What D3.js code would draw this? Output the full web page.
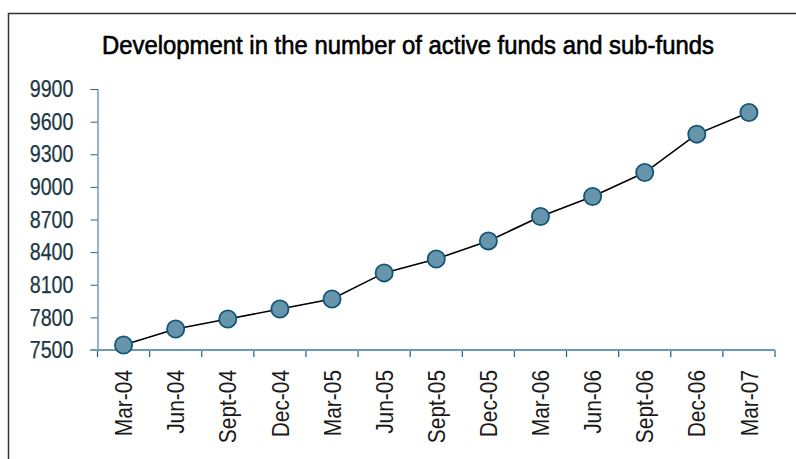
<!DOCTYPE html>
<html>
<head>
<meta charset="utf-8">
<script src="https://cdn.jsdelivr.net/npm/d3@7"></script>
<style>
  body { margin: 0; background: #fff; }
  svg { display: block; }
  text { font-family: "Liberation Sans", Arial, sans-serif; }
</style>
</head>
<body>
<div id="chart"></div>
<script>
/* quarterly number of active funds and sub-funds */
var quarters = ["Mar-04", "Jun-04", "Sept-04", "Dec-04", "Mar-05", "Jun-05", "Sept-05",
                "Dec-05", "Mar-06", "Jun-06", "Sept-06", "Dec-06", "Mar-07"];
var fundCounts = [7546, 7693, 7785, 7877, 7969, 8209, 8337, 8503, 8727, 8911, 9132, 9485, 9684];
var yTicks = [7500, 7800, 8100, 8400, 8700, 9000, 9300, 9600, 9900];
var chartTitle = "Development in the number of active funds and sub-funds";

var data = quarters.map(function(q, i) { return {quarter: q, funds: fundCounts[i]}; });

var width = 796, height = 459;
var plot = {left: 97.5, right: 775, top: 89, bottom: 350};

/* no narrow face installed: squeeze the regular one like Arial Narrow */
function narrow(sel, k) {
	sel.each(function() {
		var len = this.getComputedTextLength();
		d3.select(this)
		  .attr("textLength", len * k)
		  .attr("lengthAdjust", "spacingAndGlyphs");
	});
}

var svg = d3.select("#chart")
            .append("svg")
            .attr("width", width)
            .attr("height", height);

/* frame around the chart, right and bottom edges run off the page */
svg.append("rect")
   .attr("x", 8.5)
   .attr("y", 13.5)
   .attr("width", 800)
   .attr("height", 460)
   .style("fill", "none")
   .style("stroke", "#333")
   .style("stroke-width", 1.5);

svg.append("text")
   .attr("x", 408)
   .attr("y", 54)
   .attr("textLength", 612)
   .attr("lengthAdjust", "spacingAndGlyphs")
   .style("text-anchor", "middle")
   .style("font-size", "25px")
   .style("fill", "#000")
   .style("stroke", "#000")
   .style("stroke-width", 0.6)
   .text(chartTitle);

var x = d3.scaleBand().domain(quarters).range([plot.left, plot.right]).padding(0);
var y = d3.scaleLinear().domain([7500, 9900]).range([plot.bottom, plot.top]);

/* y axis */
var gy = svg.append("g")
            .attr("transform", "translate(" + plot.left + ",0)")
            .call(d3.axisLeft(y).tickValues(yTicks).tickFormat(d3.format("d")).tickSize(7).tickPadding(17));
gy.select(".domain").attr("stroke", "#4f86a3").attr("stroke-width", 1.2);
gy.selectAll(".tick line").attr("stroke", "#2a6688");
gy.selectAll(".tick text")
  .attr("font-family", null)
  .style("font-size", "24px")
  .style("fill", "#1c3844")
  .style("stroke", "#1c3844")
  .style("stroke-width", 0.25)
  .call(narrow, 0.82);

/* x axis: labels at band centres, ticks at band edges */
var gx = svg.append("g")
            .attr("transform", "translate(0," + plot.bottom + ")")
            .call(d3.axisBottom(x).tickSize(0).tickPadding(0));
gx.select(".domain").remove();
gx.selectAll(".tick text")
  .attr("font-family", null)
  .attr("transform", "rotate(-90)")
  .attr("x", -20)
  .attr("y", 0)
  .attr("dy", "0.36em")
  .style("text-anchor", "end")
  .style("font-size", "24px")
  .style("fill", "#1a1a1a")
  .call(narrow, 0.87);

var edges = quarters.map(function(q) { return x(q); }).concat([plot.right]);
gx.selectAll(".edge")
  .data(edges)
  .enter()
  .append("line")
  .attr("class", "edge")
  .attr("x1", function(d) { return d; })
  .attr("x2", function(d) { return d; })
  .attr("y1", 0)
  .attr("y2", 7)
  .attr("stroke", "#1f5f82")
  .attr("stroke-width", 1.2);
gx.append("line")
  .attr("x1", plot.left - 7)
  .attr("x2", plot.right)
  .attr("y1", 0)
  .attr("y2", 0)
  .attr("stroke", "#6d9bb4")
  .attr("stroke-width", 2.2);

/* line and markers */
var line = d3.line()
             .x(function(d) { return x(d.quarter) + x.bandwidth() / 2; })
             .y(function(d) { return y(d.funds); });

svg.append("path")
   .datum(data)
   .attr("d", line)
   .style("fill", "none")
   .style("stroke", "#000")
   .style("stroke-width", 1.6);

svg.selectAll(".dot")
   .data(data)
   .enter()
   .append("circle")
   .attr("class", "dot")
   .attr("cx", function(d) { return x(d.quarter) + x.bandwidth() / 2; })
   .attr("cy", function(d) { return y(d.funds); })
   .attr("r", 8.6)
   .style("fill", "#6796ac")
   .style("stroke", "#155778")
   .style("stroke-width", 1.8);
</script>
</body>
</html>
